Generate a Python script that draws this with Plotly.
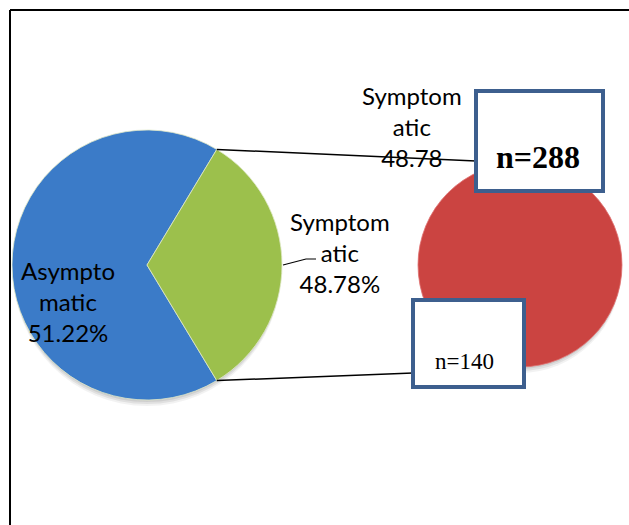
import math
import plotly.graph_objects as go

# ---- data ----
categories = ["Asymptomatic", "Symptomatic"]
counts = [288, 140]
pct_labels = ["51.22%", "48.78%"]
second_pie_values = [140]
box_labels = ["n=288", "n=140"]

W, H = 629, 525

def px(x):
    return x / W

def py(y):
    return 1 - y / H

# pie geometry (pixels)
c1x, c1y, r1 = 147, 265, 135
c2x, c2y, r2 = 520, 265, 102

total = sum(counts)
green_deg = counts[1] / total * 360
rotation = 90 + green_deg / 2  # centre the Symptomatic slice toward the second pie

fig = go.Figure()
fig.add_trace(go.Pie(
    labels=categories, values=counts, sort=False, direction="clockwise",
    rotation=rotation, textinfo="none", hoverinfo="label+value",
    marker=dict(colors=["#3b7bc8", "#9cc04c"], line=dict(color="#dfe9c8", width=0.8)),
    domain=dict(x=[px(c1x - r1), px(c1x + r1)], y=[py(c1y + r1), py(c1y - r1)]),
    showlegend=False,
))
fig.add_trace(go.Pie(
    labels=["Symptomatic"], values=second_pie_values, sort=False,
    textinfo="none", hoverinfo="label+value",
    marker=dict(colors=["#cb4441"], line=dict(color="#e07070", width=0.8)),
    domain=dict(x=[px(c2x - r2), px(c2x + r2)], y=[py(c2y + r2), py(c2y - r2)]),
    showlegend=False,
))

shapes = []
# soft shadows beneath pies
for cx, cy, r in [(c1x, c1y, r1), (c2x, c2y, r2)]:
    for k, a in [(6, 0.05), (4, 0.07), (2, 0.08)]:
        shapes.append(dict(type="circle", xref="paper", yref="paper", layer="below",
                           x0=px(cx - r + 1), x1=px(cx + r - 1), y0=py(cy + r + k), y1=py(cy - r + k),
                           fillcolor=f"rgba(0,0,0,{a})", line=dict(width=0)))
# frame
shapes.append(dict(type="line", xref="paper", yref="paper", x0=px(10), y0=py(10), x1=px(640), y1=py(10),
                   line=dict(color="black", width=2)))
shapes.append(dict(type="line", xref="paper", yref="paper", x0=px(10), y0=py(10), x1=px(10), y1=py(540),
                   line=dict(color="black", width=2)))

# connector lines from edges of the Symptomatic slice
a_top = math.radians(rotation - green_deg)
a_bot = math.radians(rotation)
tx, ty = c1x + r1 * math.sin(a_top), c1y - r1 * math.cos(a_top)
bx, by = c1x + r1 * math.sin(a_bot), c1y - r1 * math.cos(a_bot)
shapes.append(dict(type="line", xref="paper", yref="paper", x0=px(tx), y0=py(ty), x1=px(476), y1=py(161),
                   line=dict(color="black", width=1.5), layer="above"))
shapes.append(dict(type="line", xref="paper", yref="paper", x0=px(bx), y0=py(by), x1=px(413), y1=py(373),
                   line=dict(color="black", width=1.5), layer="above"))
# leader line for Symptomatic label
shapes.append(dict(type="path", xref="paper", yref="paper",
                   path=f"M {px(283)},{py(265)} L {px(306)},{py(259)} L {px(316)},{py(259)}",
                   line=dict(color="black", width=1.2), layer="above"))

# boxes
shapes.append(dict(type="rect", xref="paper", yref="paper", x0=px(476), y0=py(91), x1=px(603), y1=py(191),
                   line=dict(color="#3d5f8e", width=4), fillcolor="white", layer="above"))
shapes.append(dict(type="rect", xref="paper", yref="paper", x0=px(413), y0=py(300), x1=px(524), y1=py(387),
                   line=dict(color="#3d5f8e", width=4), fillcolor="white", layer="above"))

annotations = []
lab_font = dict(family="Lato, Noto Sans, sans-serif", size=24, color="black")

def ann(x, y, text, font):
    return dict(x=px(x), y=py(y), xref="paper", yref="paper", showarrow=False,
                xanchor="center", yanchor="middle", text=text, font=font, align="center")

annotations.append(ann(68, 301, "Asympto<br>matic<br>" + pct_labels[0], lab_font))
annotations.append(ann(340, 253, "Symptom<br>atic<br>" + pct_labels[1], lab_font))
annotations.append(ann(412, 126, "Symptom<br>atic<br>" + pct_labels[1].rstrip("%"), lab_font))
annotations.append(ann(538, 157, "<b>" + box_labels[0] + "</b>",
                       dict(family="Liberation Serif, Times New Roman, serif", size=32, color="black")))
annotations.append(ann(464, 361, box_labels[1],
                       dict(family="Liberation Serif, Times New Roman, serif", size=23, color="black")))

fig.update_layout(width=W, height=H, margin=dict(l=0, r=0, t=0, b=0),
                  paper_bgcolor="white", plot_bgcolor="white",
                  shapes=shapes, annotations=annotations)
fig.write_html("out.html")
